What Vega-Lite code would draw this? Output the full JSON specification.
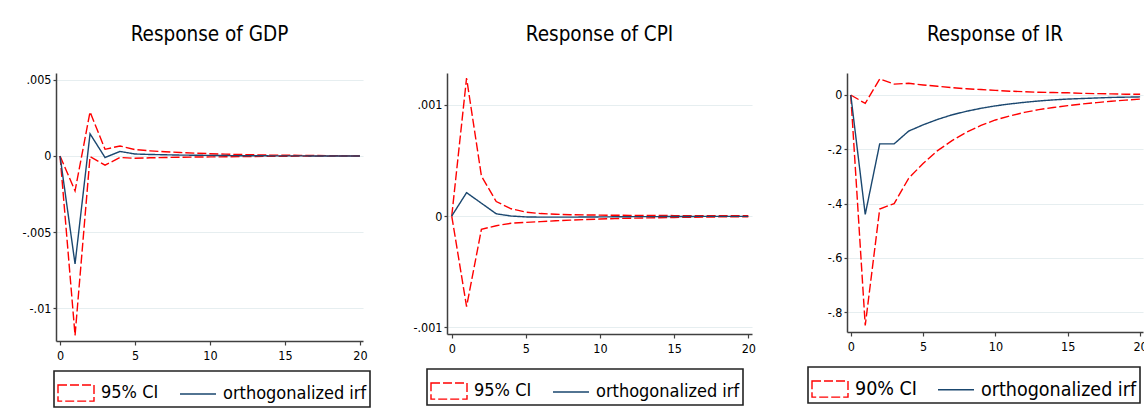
{
  "$schema": "https://vega.github.io/schema/vega-lite/v6.json",
  "background": "white",
  "padding": {"left": 21, "top": 24, "right": 0, "bottom": 0},
  "datasets": {
    "gdp": [
      {"t": 0, "lo": 0, "irf": 0, "hi": 0},
      {"t": 1, "lo": -0.0118, "irf": -0.0071, "hi": -0.0023},
      {"t": 2, "lo": -0.00004, "irf": 0.00146, "hi": 0.0029},
      {"t": 3, "lo": -0.0006, "irf": -0.0001, "hi": 0.00044},
      {"t": 4, "lo": -0.0001, "irf": 0.0003, "hi": 0.00066},
      {"t": 5, "lo": -0.00015, "irf": 0.00013, "hi": 0.00042},
      {"t": 6, "lo": -0.00012, "irf": 0.0001, "hi": 0.00034},
      {"t": 7, "lo": -0.0001, "irf": 0.00008, "hi": 0.00028},
      {"t": 8, "lo": -0.00008, "irf": 0.00006, "hi": 0.00023},
      {"t": 9, "lo": -0.00007, "irf": 0.00005, "hi": 0.00019},
      {"t": 10, "lo": -0.00006, "irf": 0.00004, "hi": 0.00015},
      {"t": 11, "lo": -0.00005, "irf": 0.00003, "hi": 0.00012},
      {"t": 12, "lo": -0.00004, "irf": 0.00002, "hi": 0.0001},
      {"t": 13, "lo": -0.00003, "irf": 0.00002, "hi": 0.00008},
      {"t": 14, "lo": -0.00002, "irf": 0.00001, "hi": 0.00006},
      {"t": 15, "lo": -0.00002, "irf": 0.00001, "hi": 0.00005},
      {"t": 16, "lo": -0.00001, "irf": 0.00001, "hi": 0.00004},
      {"t": 17, "lo": -0.00001, "irf": 0, "hi": 0.00003},
      {"t": 18, "lo": -0.00001, "irf": 0, "hi": 0.00002},
      {"t": 19, "lo": 0, "irf": 0, "hi": 0.00001},
      {"t": 20, "lo": 0, "irf": 0, "hi": 0.00001}
    ],
    "cpi": [
      {"t": 0, "lo": 0, "irf": 0, "hi": 0},
      {"t": 1, "lo": -0.000814, "irf": 0.00021, "hi": 0.00124},
      {"t": 2, "lo": -0.00012, "irf": 0.000115, "hi": 0.00036},
      {"t": 3, "lo": -0.000087, "irf": 0.00002, "hi": 0.00013},
      {"t": 4, "lo": -0.000065, "irf": 0, "hi": 0.000065},
      {"t": 5, "lo": -0.000057, "irf": -0.000008, "hi": 0.000035},
      {"t": 6, "lo": -0.00005, "irf": -0.00001, "hi": 0.000022},
      {"t": 7, "lo": -0.000043, "irf": -0.00001, "hi": 0.000016},
      {"t": 8, "lo": -0.000037, "irf": -0.00001, "hi": 0.000012},
      {"t": 9, "lo": -0.000032, "irf": -0.000009, "hi": 0.00001},
      {"t": 10, "lo": -0.000027, "irf": -0.000008, "hi": 0.000008},
      {"t": 11, "lo": -0.000023, "irf": -0.000007, "hi": 0.000007},
      {"t": 12, "lo": -0.00002, "irf": -0.000006, "hi": 0.000006},
      {"t": 13, "lo": -0.000017, "irf": -0.000005, "hi": 0.000005},
      {"t": 14, "lo": -0.000015, "irf": -0.000005, "hi": 0.000005},
      {"t": 15, "lo": -0.000013, "irf": -0.000004, "hi": 0.000004},
      {"t": 16, "lo": -0.000011, "irf": -0.000004, "hi": 0.000004},
      {"t": 17, "lo": -0.00001, "irf": -0.000003, "hi": 0.000003},
      {"t": 18, "lo": -0.000008, "irf": -0.000003, "hi": 0.000003},
      {"t": 19, "lo": -0.000007, "irf": -0.000003, "hi": 0.000003},
      {"t": 20, "lo": -0.000006, "irf": -0.000003, "hi": 0.000002}
    ],
    "ir": [
      {"t": 0, "lo": 0, "irf": 0, "hi": 0},
      {"t": 1, "lo": -0.849, "irf": -0.44, "hi": -0.031},
      {"t": 2, "lo": -0.42, "irf": -0.18, "hi": 0.059},
      {"t": 3, "lo": -0.4, "irf": -0.18, "hi": 0.04},
      {"t": 4, "lo": -0.307, "irf": -0.133, "hi": 0.043},
      {"t": 5, "lo": -0.252, "irf": -0.11, "hi": 0.037},
      {"t": 6, "lo": -0.205, "irf": -0.09, "hi": 0.032},
      {"t": 7, "lo": -0.168, "irf": -0.073, "hi": 0.027},
      {"t": 8, "lo": -0.137, "irf": -0.06, "hi": 0.023},
      {"t": 9, "lo": -0.112, "irf": -0.049, "hi": 0.02},
      {"t": 10, "lo": -0.092, "irf": -0.04, "hi": 0.017},
      {"t": 11, "lo": -0.077, "irf": -0.033, "hi": 0.014},
      {"t": 12, "lo": -0.064, "irf": -0.027, "hi": 0.012},
      {"t": 13, "lo": -0.054, "irf": -0.022, "hi": 0.01},
      {"t": 14, "lo": -0.046, "irf": -0.018, "hi": 0.009},
      {"t": 15, "lo": -0.039, "irf": -0.015, "hi": 0.008},
      {"t": 16, "lo": -0.033, "irf": -0.013, "hi": 0.006},
      {"t": 17, "lo": -0.028, "irf": -0.011, "hi": 0.005},
      {"t": 18, "lo": -0.023, "irf": -0.009, "hi": 0.004},
      {"t": 19, "lo": -0.019, "irf": -0.008, "hi": 0.003},
      {"t": 20, "lo": -0.015, "irf": -0.007, "hi": 0.003}
    ]
  },
  "bounds": "flush",
  "spacing": 84,
  "resolve": {"scale": {"color": "independent", "strokeDash": "independent"}, "legend": {"color": "independent", "strokeDash": "independent"}},
  "hconcat": [
    {
      "width": 307,
      "height": 268,
      "title": "Response of GDP",
      "data": {"name": "gdp"},
      "transform": [{"fold": ["hi", "lo", "irf"], "as": ["key", "val"]}],
      "mark": {"type": "line", "strokeWidth": 1.4},
      "encoding": {
        "x": {"field": "t", "type": "quantitative", "scale": {"domain": [-0.27, 20.2], "nice": false, "zero": false}, "axis": {"values": [0, 5, 10, 15, 20], "title": null, "grid": false}},
        "y": {"field": "val", "type": "quantitative", "scale": {"domain": [-0.01217, 0.00546], "nice": false, "zero": false}, "axis": {"values": [-0.01, -0.005, 0, 0.005], "title": null, "labelExpr": "datum.value == 0 ? '0' : replace(toString(datum.value), '0.', '.')"}},
        "color": {"field": "key", "type": "nominal", "scale": {"domain": ["hi", "lo", "irf"], "range": ["#ff0000", "#ff0000", "#1a476f"]},
          "legend": {"orient": "none", "legendX": -2, "legendY": 298, "direction": "horizontal", "title": null, "values": ["hi", "irf"],
            "labelExpr": "datum.value == 'irf' ? 'orthogonalized irf\u00a0' : '95% CI'",
            "encode": {"legend": {"update": {"strokeWidth": {"value": 1.6}}}, "symbols": {"update": {"shape": {"signal": "datum.value == 'irf' ? 'M-1,0H1' : 'M-1,-0.45H1V0.45H-1Z'"}, "fill": {"value": "transparent"}, "strokeDash": {"signal": "datum.value == 'irf' ? [] : [7,3]"}}}}}},
        "strokeDash": {"field": "key", "type": "nominal", "scale": {"domain": ["hi", "lo", "irf"], "range": [[9, 3], [9, 3], [1, 0]]}, "legend": null}
      }
    },
    {
      "bounds": "flush",
      "spacing": 95,
      "resolve": {"scale": {"color": "independent", "strokeDash": "independent"}, "legend": {"color": "independent", "strokeDash": "independent"}},
      "hconcat": [
        {
          "width": 305,
          "height": 261,
          "title": "Response of CPI",
          "data": {"name": "cpi"},
          "transform": [{"fold": ["hi", "lo", "irf"], "as": ["key", "val"]}],
          "mark": {"type": "line", "strokeWidth": 1.4},
          "encoding": {
            "x": {"field": "t", "type": "quantitative", "scale": {"domain": [-0.32, 20.25], "nice": false, "zero": false}, "axis": {"values": [0, 5, 10, 15, 20], "title": null, "grid": false}},
            "y": {"field": "val", "type": "quantitative", "scale": {"domain": [-0.00106, 0.001285], "nice": false, "zero": false}, "axis": {"values": [-0.001, 0, 0.001], "title": null, "labelExpr": "datum.value == 0 ? '0' : replace(toString(datum.value), '0.', '.')"}},
            "color": {"field": "key", "type": "nominal", "scale": {"domain": ["hi", "lo", "irf"], "range": ["#ff0000", "#ff0000", "#1a476f"]},
              "legend": {"orient": "none", "legendX": -20, "legendY": 296, "direction": "horizontal", "title": null, "values": ["hi", "irf"],
                "labelExpr": "datum.value == 'irf' ? 'orthogonalized irf\u00a0' : '95% CI'",
                "encode": {"legend": {"update": {"strokeWidth": {"value": 1.6}}}, "symbols": {"update": {"shape": {"signal": "datum.value == 'irf' ? 'M-1,0H1' : 'M-1,-0.45H1V0.45H-1Z'"}, "fill": {"value": "transparent"}, "strokeDash": {"signal": "datum.value == 'irf' ? [] : [7,3]"}}}}}},
            "strokeDash": {"field": "key", "type": "nominal", "scale": {"domain": ["hi", "lo", "irf"], "range": [[9, 3], [9, 3], [1, 0]]}, "legend": null}
          }
        },
        {
          "width": 296,
          "height": 259,
          "title": "Response of IR",
          "data": {"name": "ir"},
          "transform": [{"fold": ["hi", "lo", "irf"], "as": ["key", "val"]}],
          "mark": {"type": "line", "strokeWidth": 1.4},
          "encoding": {
            "x": {"field": "t", "type": "quantitative", "scale": {"domain": [-0.26, 20.2], "nice": false, "zero": false}, "axis": {"values": [0, 5, 10, 15, 20], "title": null, "grid": false}},
            "y": {"field": "val", "type": "quantitative", "scale": {"domain": [-0.873, 0.081], "nice": false, "zero": false}, "axis": {"values": [-0.8, -0.6, -0.4, -0.2, 0], "title": null, "labelExpr": "datum.value == 0 ? '0' : replace(toString(datum.value), '0.', '.')"}},
            "color": {"field": "key", "type": "nominal", "scale": {"domain": ["hi", "lo", "irf"], "range": ["#ff0000", "#ff0000", "#1a476f"]},
              "legend": {"orient": "none", "legendX": -39, "legendY": 294, "direction": "horizontal", "title": null, "values": ["hi", "irf"], "labelFontSize": 19.5,
                "labelExpr": "datum.value == 'irf' ? 'orthogonalized irf\u00a0' : '90% CI'",
                "encode": {"legend": {"update": {"strokeWidth": {"value": 1.6}}}, "symbols": {"update": {"shape": {"signal": "datum.value == 'irf' ? 'M-1,0H1' : 'M-1,-0.45H1V0.45H-1Z'"}, "fill": {"value": "transparent"}, "strokeDash": {"signal": "datum.value == 'irf' ? [] : [7,3]"}}}}}},
            "strokeDash": {"field": "key", "type": "nominal", "scale": {"domain": ["hi", "lo", "irf"], "range": [[9, 3], [9, 3], [1, 0]]}, "legend": null}
          }
        }
      ]
    }
  ],
  "config": {
    "view": {"stroke": null},
    "font": "DejaVu Sans Condensed",
    "title": {"font": "DejaVu Sans Condensed", "fontSize": 20.5, "fontWeight": "normal", "color": "black", "frame": "group", "anchor": "middle", "offset": 28},
    "axis": {"labelFont": "DejaVu Sans Condensed", "labelFontSize": 12.5, "labelColor": "black", "domainColor": "#404040", "domainWidth": 1.5, "tickColor": "#404040", "tickWidth": 1.2, "tickSize": 4, "gridColor": "#e6eef0", "gridWidth": 1.2},
    "axisY": {"labelPadding": 2, "tickSize": 3},
    "axisX": {"labelPadding": 4},
    "legend": {"labelFont": "DejaVu Sans Condensed", "labelFontSize": 18, "labelColor": "black", "strokeColor": "#222", "padding": 3, "columnPadding": 18, "labelOffset": 6, "symbolSize": 1296, "symbolStrokeWidth": 1.4, "labelLimit": 0}
  }
}
